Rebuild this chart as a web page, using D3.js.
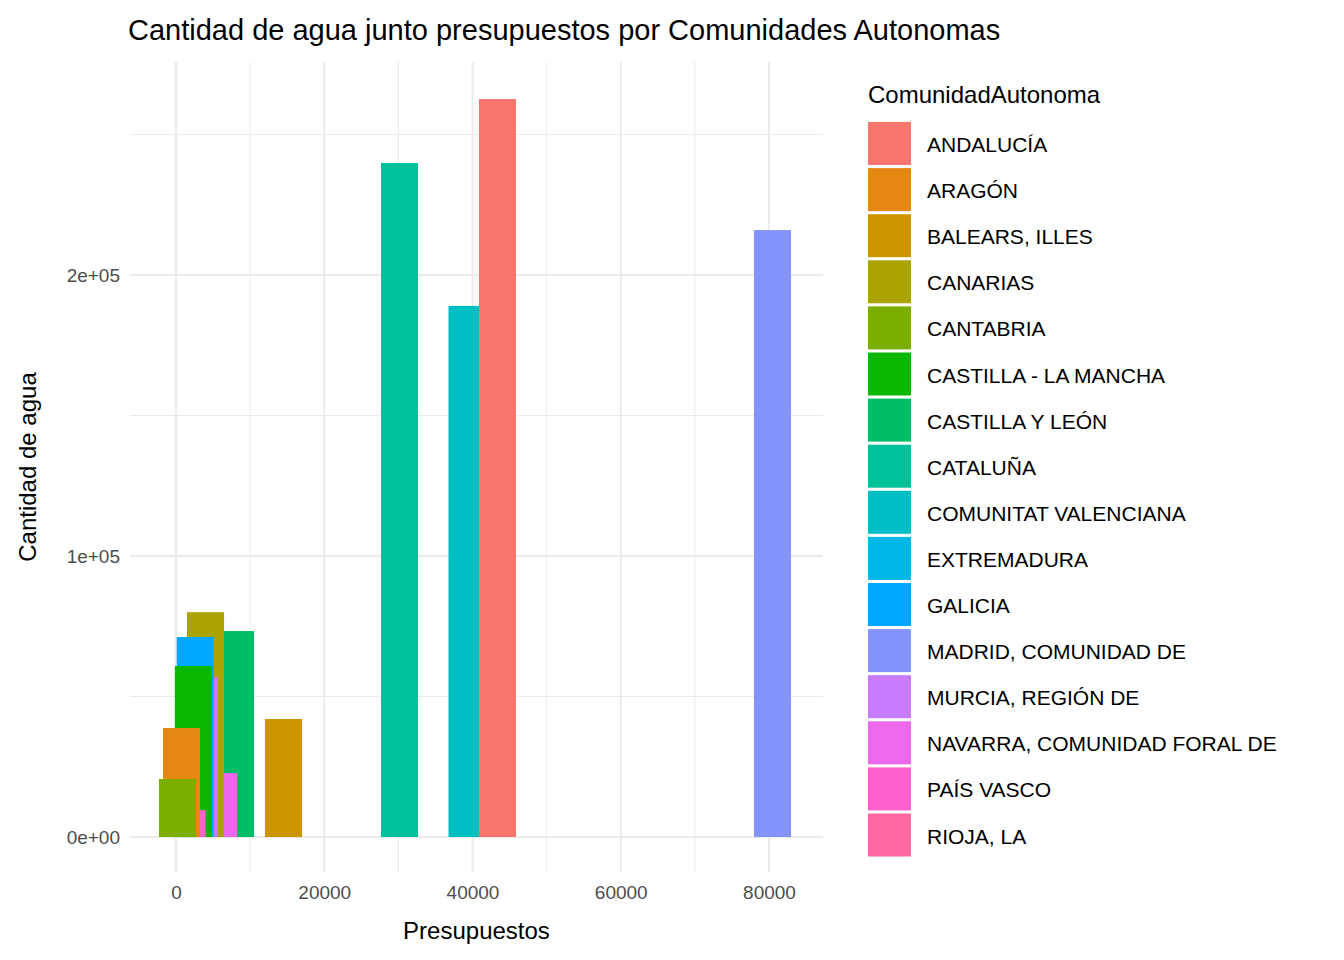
<!DOCTYPE html>
<html><head><meta charset="utf-8">
<script src="https://cdn.jsdelivr.net/npm/d3@7"></script>
<style>body{margin:0;background:#fff;font-family:Arial,"Liberation Sans",sans-serif}</style>
</head><body><div class="canvas"></div>
<script>
// legend order (factor levels)
const regions = ["ANDALUCÍA","ARAGÓN","BALEARS, ILLES","CANARIAS","CANTABRIA","CASTILLA - LA MANCHA",
  "CASTILLA Y LEÓN","CATALUÑA","COMUNITAT VALENCIANA","EXTREMADURA","GALICIA","MADRID, COMUNIDAD DE",
  "MURCIA, REGIÓN DE","NAVARRA, COMUNIDAD FORAL DE","PAÍS VASCO","RIOJA, LA"];
const colors = ["#F8766D","#E68613","#CD9600","#ABA300","#7CAE00","#0CB702","#00BE67","#00C19A",
  "#00BFC4","#00B8E7","#00A9FF","#8494FF","#C77CFF","#ED68ED","#FF61CC","#FF68A1"];
// drawing order and values
const drawOrder = ["CASTILLA Y LEÓN","NAVARRA, COMUNIDAD FORAL DE","CANARIAS","RIOJA, LA","MURCIA, REGIÓN DE",
  "EXTREMADURA","GALICIA","CASTILLA - LA MANCHA","PAÍS VASCO","ARAGÓN","CANTABRIA",
  "BALEARS, ILLES","CATALUÑA","COMUNITAT VALENCIANA","ANDALUCÍA","MADRID, COMUNIDAD DE"];
const presupuestos = [8030,5730,3980,3170,3170,2230,2600,2340,1500,740,200,14500,30150,39260,43370,80470];
const agua = [73300,22770,80000,52670,56940,28110,71170,60850,9600,38790,20640,42000,239850,189000,262630,216000];
const barWidth = 5000;

const W = 1344, H = 960;
const svg = d3.select(".canvas").append("svg").attr("width", W).attr("height", H);
const panel = {left:130, right:823, top:62, bottom:872};
const x = d3.scaleLinear().domain([-6206, 87285]).range([panel.left, panel.right]);
const y = d3.scaleLinear().domain([-12450, 275800]).range([panel.bottom, panel.top]);
const color = d3.scaleOrdinal().domain(regions).range(colors);

// grid
[10000,30000,50000,70000].forEach(v => svg.append("line").attr("x1",x(v)).attr("x2",x(v))
  .attr("y1",panel.top).attr("y2",panel.bottom).attr("stroke","#EBEBEB").attr("stroke-width",1));
[50000,150000,250000].forEach(v => svg.append("line").attr("y1",y(v)).attr("y2",y(v))
  .attr("x1",panel.left).attr("x2",panel.right).attr("stroke","#EBEBEB").attr("stroke-width",1));
[0,20000,40000,60000,80000].forEach(v => svg.append("line").attr("x1",x(v)).attr("x2",x(v))
  .attr("y1",panel.top).attr("y2",panel.bottom).attr("stroke","#EBEBEB").attr("stroke-width",2));
[0,100000,200000].forEach(v => svg.append("line").attr("y1",y(v)).attr("y2",y(v))
  .attr("x1",panel.left).attr("x2",panel.right).attr("stroke","#EBEBEB").attr("stroke-width",2));

// bars
svg.selectAll("rect.bar").data(drawOrder).enter().append("rect").attr("class","bar")
  .attr("x", (d,i) => x(presupuestos[i] - barWidth/2))
  .attr("width", x(barWidth) - x(0))
  .attr("y", (d,i) => y(agua[i]))
  .attr("height", (d,i) => y(0) - y(agua[i]))
  .attr("fill", d => color(d));

// axes
const xAxis = d3.axisBottom(x).tickValues([0,20000,40000,60000,80000]).tickFormat(d3.format("d")).tickSize(0).tickPadding(14);
const yAxis = d3.axisLeft(y).tickValues([0,100000,200000]).tickFormat(d => d===0?"0e+00":(d/1e5)+"e+05").tickSize(0).tickPadding(10);
const gx = svg.append("g").attr("transform",`translate(0,${panel.bottom})`).call(xAxis);
const gy = svg.append("g").attr("transform",`translate(${panel.left},0)`).call(yAxis);
[gx,gy].forEach(g => { g.select(".domain").remove();
  g.selectAll("text").attr("fill","#4D4D4D").style("font-size","19px").style("font-family","Arial, Liberation Sans"); });

svg.append("text").attr("x",128).attr("y",40).text("Cantidad de agua junto presupuestos por Comunidades Autonomas")
  .style("font-size","29px");
svg.append("text").attr("x",(panel.left+panel.right)/2).attr("y",939).attr("text-anchor","middle")
  .text("Presupuestos").style("font-size","24px");
svg.append("text").attr("transform",`translate(36,${(panel.top+panel.bottom)/2}) rotate(-90)`)
  .attr("text-anchor","middle").text("Cantidad de agua").style("font-size","24px");

// legend
svg.append("text").attr("x",868).attr("y",103).text("ComunidadAutonoma").style("font-size","24px");
const lg = svg.selectAll("g.leg").data(regions).enter().append("g").attr("class","leg")
  .attr("transform",(d,i)=>`translate(868,${122 + i*46.1})`);
lg.append("rect").attr("width",43).attr("height",43).attr("fill",d=>color(d));
lg.append("text").attr("x",59).attr("y",30).text(d=>d).style("font-size","21px");
</script></body></html>
